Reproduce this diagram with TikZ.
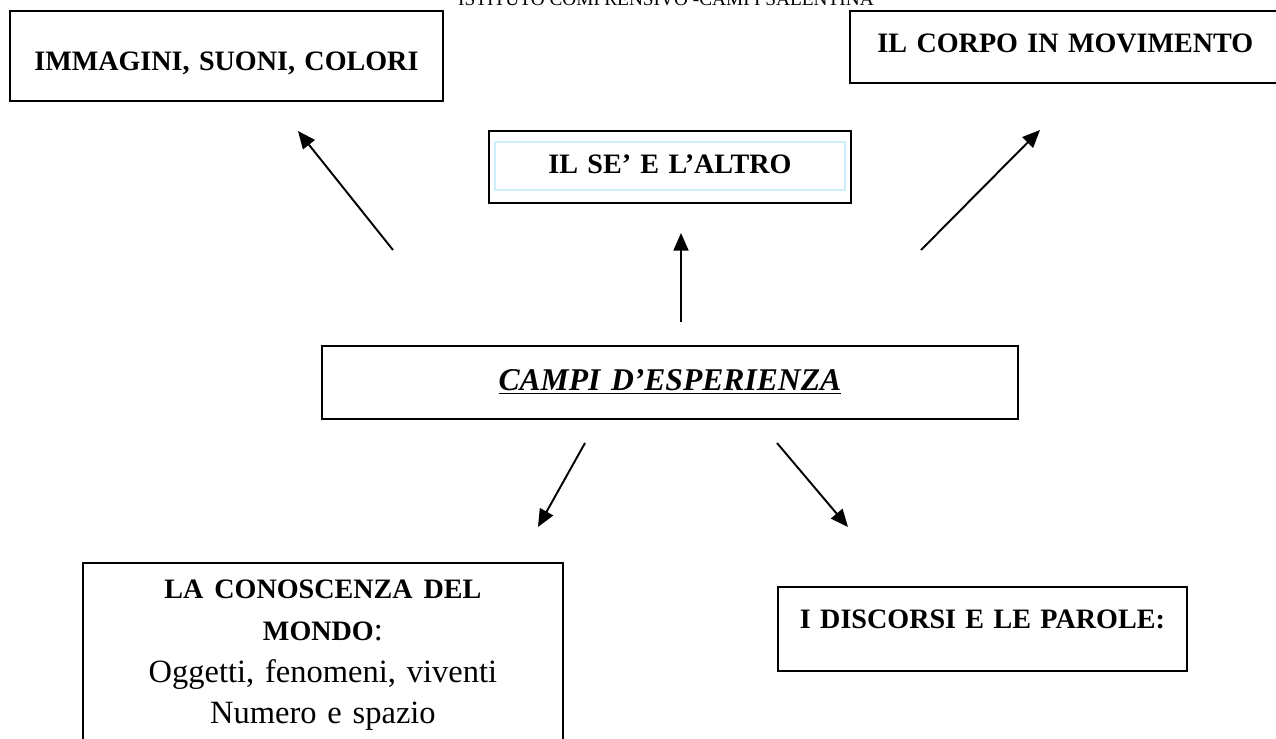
\documentclass[tikz,border=0pt]{standalone}
\usepackage{fontspec}
\setmainfont{Liberation Serif}
\usetikzlibrary{arrows.meta}

\tikzset{
  campo/.style={draw, line width=1.1pt, inner sep=0pt, align=center,
    font=\bfseries\fontsize{16}{20}\selectfont},
  freccia/.style={line width=1.1pt, -{Triangle[length=10pt,width=8.5pt]}}
}

\begin{document}
\begin{tikzpicture}[x=0.02cm, y=-0.02cm]
\useasboundingbox (0,0) rectangle (1276,738);

\node [anchor=base, font=\fontsize{11}{13}\selectfont] (intest) at (666,5) {ISTITUTO COMPRENSIVO -CAMPI SALENTINA};

% campi in alto
\node [campo, anchor=north west, text width=8.66cm, text height=1.2cm, text depth=0.6cm] (imm) at (9,10) {IMMAGINI, SUONI, COLORI};
\node [campo, anchor=north west, text width=8.62cm, text height=0.84cm, text depth=0.6cm] (corpo) at (849,10) {IL CORPO IN MOVIMENTO};
\draw [cyan!20, line width=0.6pt] (495,142) rectangle (845,190);
\node [campo, anchor=north west, text width=7.24cm, text height=0.86cm, text depth=0.58cm] (se) at (488,130) {IL SE' E L'ALTRO};

% centro
\node [campo, anchor=north west, text width=13.92cm, text height=0.9cm, text depth=0.56cm,
  font=\bfseries\itshape\fontsize{18}{20}\selectfont] (campi) at (321,345) {\underline{CAMPI D'ESPERIENZA}};

% campi in basso
\node [campo, anchor=north west, text width=9.6cm, text height=0.72cm, text depth=3.24cm,
  font=\fontsize{18.5}{23.7}\selectfont] (cono) at (82,562)
  {{\bfseries\fontsize{16}{23.7}\selectfont LA CONOSCENZA DEL}\\
   {\bfseries\fontsize{16}{23.7}\selectfont MONDO}:\\
   Oggetti, fenomeni, viventi\\
   Numero e spazio};
\node [campo, anchor=north west, text width=8.18cm, text height=0.84cm, text depth=0.84cm] (disc) at (777,586) {I DISCORSI E LE PAROLE:};

% frecce
\coordinate (p1) at (393,250); \coordinate (q1) at (298,131);
\coordinate (p2) at (681,322); \coordinate (q2) at (681,233);
\coordinate (p3) at (921,250); \coordinate (q3) at (1040,130);
\coordinate (p4) at (585,443); \coordinate (q4) at (538,527);
\coordinate (p5) at (777,443); \coordinate (q5) at (848,527);

\draw [freccia] (p1) -- (q1);
\draw [freccia] (p2) -- (q2);
\draw [freccia] (p3) -- (q3);
\draw [freccia] (p4) -- (q4);
\draw [freccia] (p5) -- (q5);

\end{tikzpicture}
\end{document}
